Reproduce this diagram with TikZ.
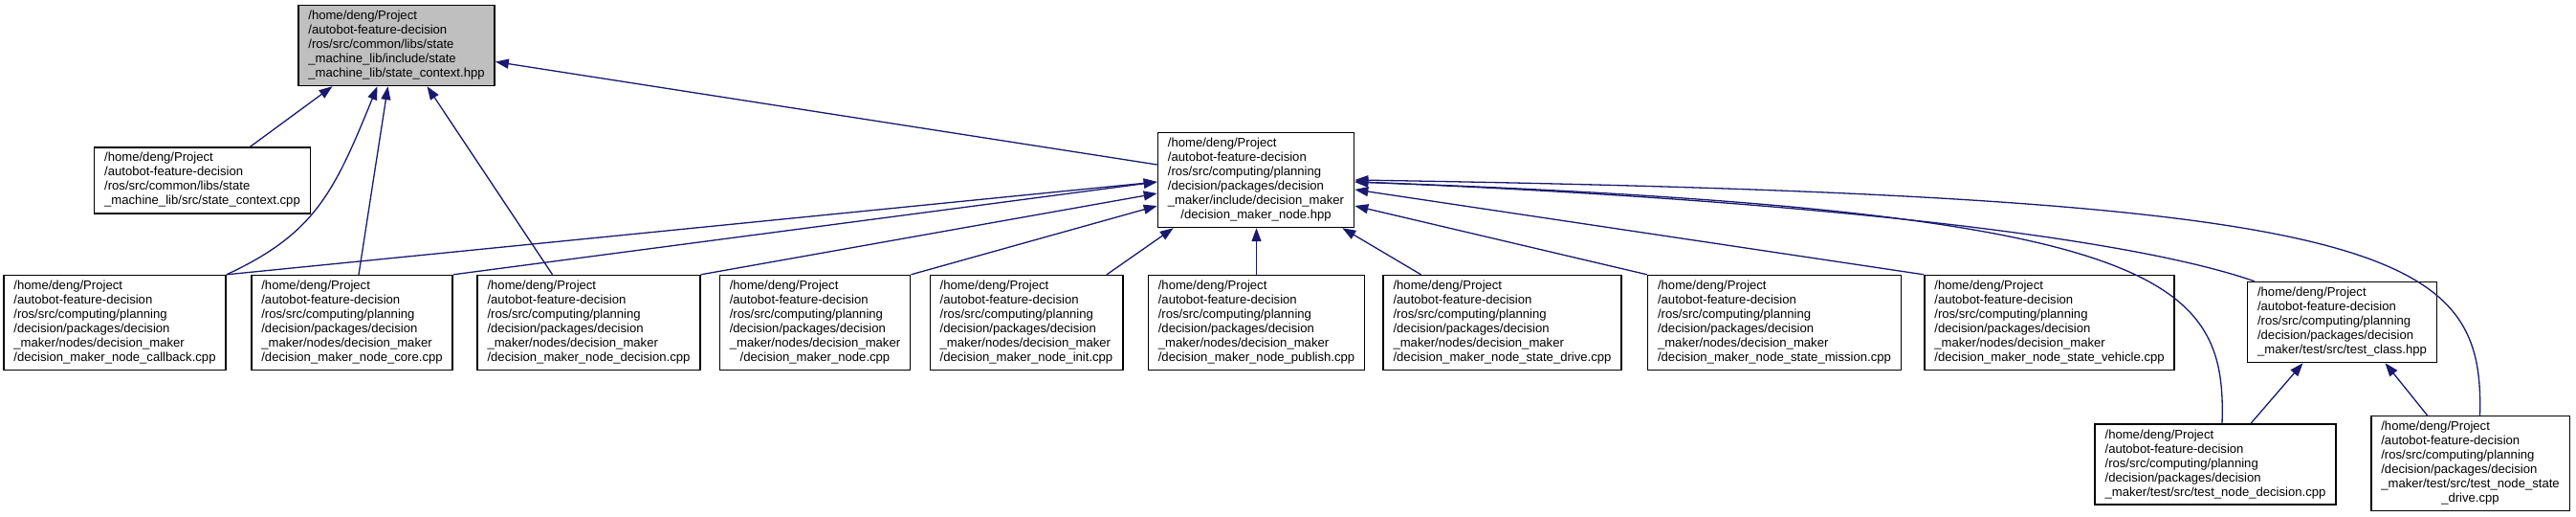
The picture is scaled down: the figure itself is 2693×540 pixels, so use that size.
\documentclass[tikz,border=0pt]{standalone}
\usepackage{fontspec}
\setmainfont{Liberation Sans}
\usepackage{tikz}
\usetikzlibrary{calc,arrows.meta}
\definecolor{inclblue}{RGB}{25,25,112}
\definecolor{rootgrey}{RGB}{191,191,191}
\newcommand{\pathlabel}[2]{\begin{tabular}{@{}l@{}}#1\\\multicolumn{1}{@{}c@{}}{#2}\end{tabular}}
\newcommand{\planpath}{/home/deng/Project\\/autobot-feature-decision\\/ros/src/computing/planning\\/decision/packages/decision}

\begin{document}
\begin{tikzpicture}[x=1pt,y=-1pt,
    filenode/.style={draw=black,line width=1.4pt,fill=white,inner xsep=10.5pt,inner ysep=4.5pt,font=\fontsize{13.1}{15}\selectfont},
    rootnode/.style={filenode,fill=rootgrey},
    incl/.style={inclblue,line width=1.3pt,-{Triangle[length=14pt,width=10pt]}}]
  \useasboundingbox (0,0) rectangle (2693,540);
  % included header and its direct includers
  \node[rootnode] (root) at (414.5,47.5) {\pathlabel{/home/deng/Project\\/autobot-feature-decision\\/ros/src/common/libs/state\\\_machine\_lib/include/state}{\_machine\_lib/state\_context.hpp}};
  \node[filenode] (ctx) at (211.5,188.5) {\pathlabel{/home/deng/Project\\/autobot-feature-decision\\/ros/src/common/libs/state}{\_machine\_lib/src/state\_context.cpp}};
  \node[filenode] (hpp) at (1313,188) {\pathlabel{\planpath\\\_maker/include/decision\_maker}{/decision\_maker\_node.hpp}};
  % node sources
  \foreach \nm/\x/\fn in {cb/120/{decision\_maker\_node\_callback.cpp},core/368/{decision\_maker\_node\_core.cpp},
      dec/615.5/{decision\_maker\_node\_decision.cpp},ndc/852/{decision\_maker\_node.cpp},
      init/1073/{decision\_maker\_node\_init.cpp},pub/1313.5/{decision\_maker\_node\_publish.cpp},
      sdr/1570.5/{decision\_maker\_node\_state\_drive.cpp},mis/1855/{decision\_maker\_node\_state\_mission.cpp},
      veh/2142.5/{decision\_maker\_node\_state\_vehicle.cpp}}
    \node[filenode] (\nm) at (\x,337) {\pathlabel{\planpath\\\_maker/nodes/decision\_maker}{/\fn}};
  % tests
  \node[filenode] (tcl) at (2448.5,336.5) {\pathlabel{\planpath}{\_maker/test/src/test\_class.hpp}};
  \node[filenode] (tnd) at (2316,485) {\pathlabel{\planpath}{\_maker/test/src/test\_node\_decision.cpp}};
  \node[filenode] (tns) at (2582.5,484) {\pathlabel{\planpath\\\_maker/test/src/test\_node\_state}{\_drive.cpp}};

  % edges to state_context.hpp
  \draw[incl] ($(ctx.north)+(50,0)$) -- ($(root.south)+(-67,0)$);
  \draw[incl] (cb.north east) .. controls +(93,-43) and +(-45,110) .. ($(root.south)+(-20,0)$);
  \draw[incl] ($(core.north)+(7,0)$) -- ($(root.south)+(-9,0)$);
  \draw[incl] ($(dec.north)+(-38,0)$) -- ($(root.south)+(32,0)$);
  \draw[incl] ($(hpp.west)+(0,-16)$) -- ($(root.east)+(0,17)$);
  % edges to decision_maker_node.hpp
  \foreach \src/\dy in {cb/2,core/2,dec/14,ndc/27}
    \draw[incl] (\src.north east) -- ($(hpp.west)+(0,\dy)$);
  \draw[incl] ($(init.north)+(84,0)$) -- ($(hpp.south west)+(17,0)$);
  \draw[incl] (pub.north) -- (pub.north |- hpp.south);
  \draw[incl] ($(sdr.north)+(-85,0)$) -- ($(hpp.south east)+(-13,0)$);
  \draw[incl] (mis.north west) -- ($(hpp.east)+(0,27)$);
  \draw[incl] (veh.north west) -- ($(hpp.east)+(0,10)$);
  \draw[incl] ($(tcl.north west)+(8,0)$) .. controls +(-155,-54) and +(384,15) .. ($(hpp.east)+(0,2)$);
  \draw[incl] ($(tnd.north)+(7,0)$) .. controls +(5,-153) and +(844,30) .. ($(hpp.east)+(0,2)$);
  \draw[incl] ($(tns.north)+(10,0)$) .. controls +(5,-174) and +(1084,17) .. (hpp.east);
  % edges to test_class.hpp
  \draw[incl] ($(tnd.north)+(37,0)$) -- ($(tcl.south)+(-41,0)$);
  \draw[incl] ($(tns.north)+(-45,0)$) -- ($(tcl.south)+(45,0)$);
\end{tikzpicture}
\end{document}
